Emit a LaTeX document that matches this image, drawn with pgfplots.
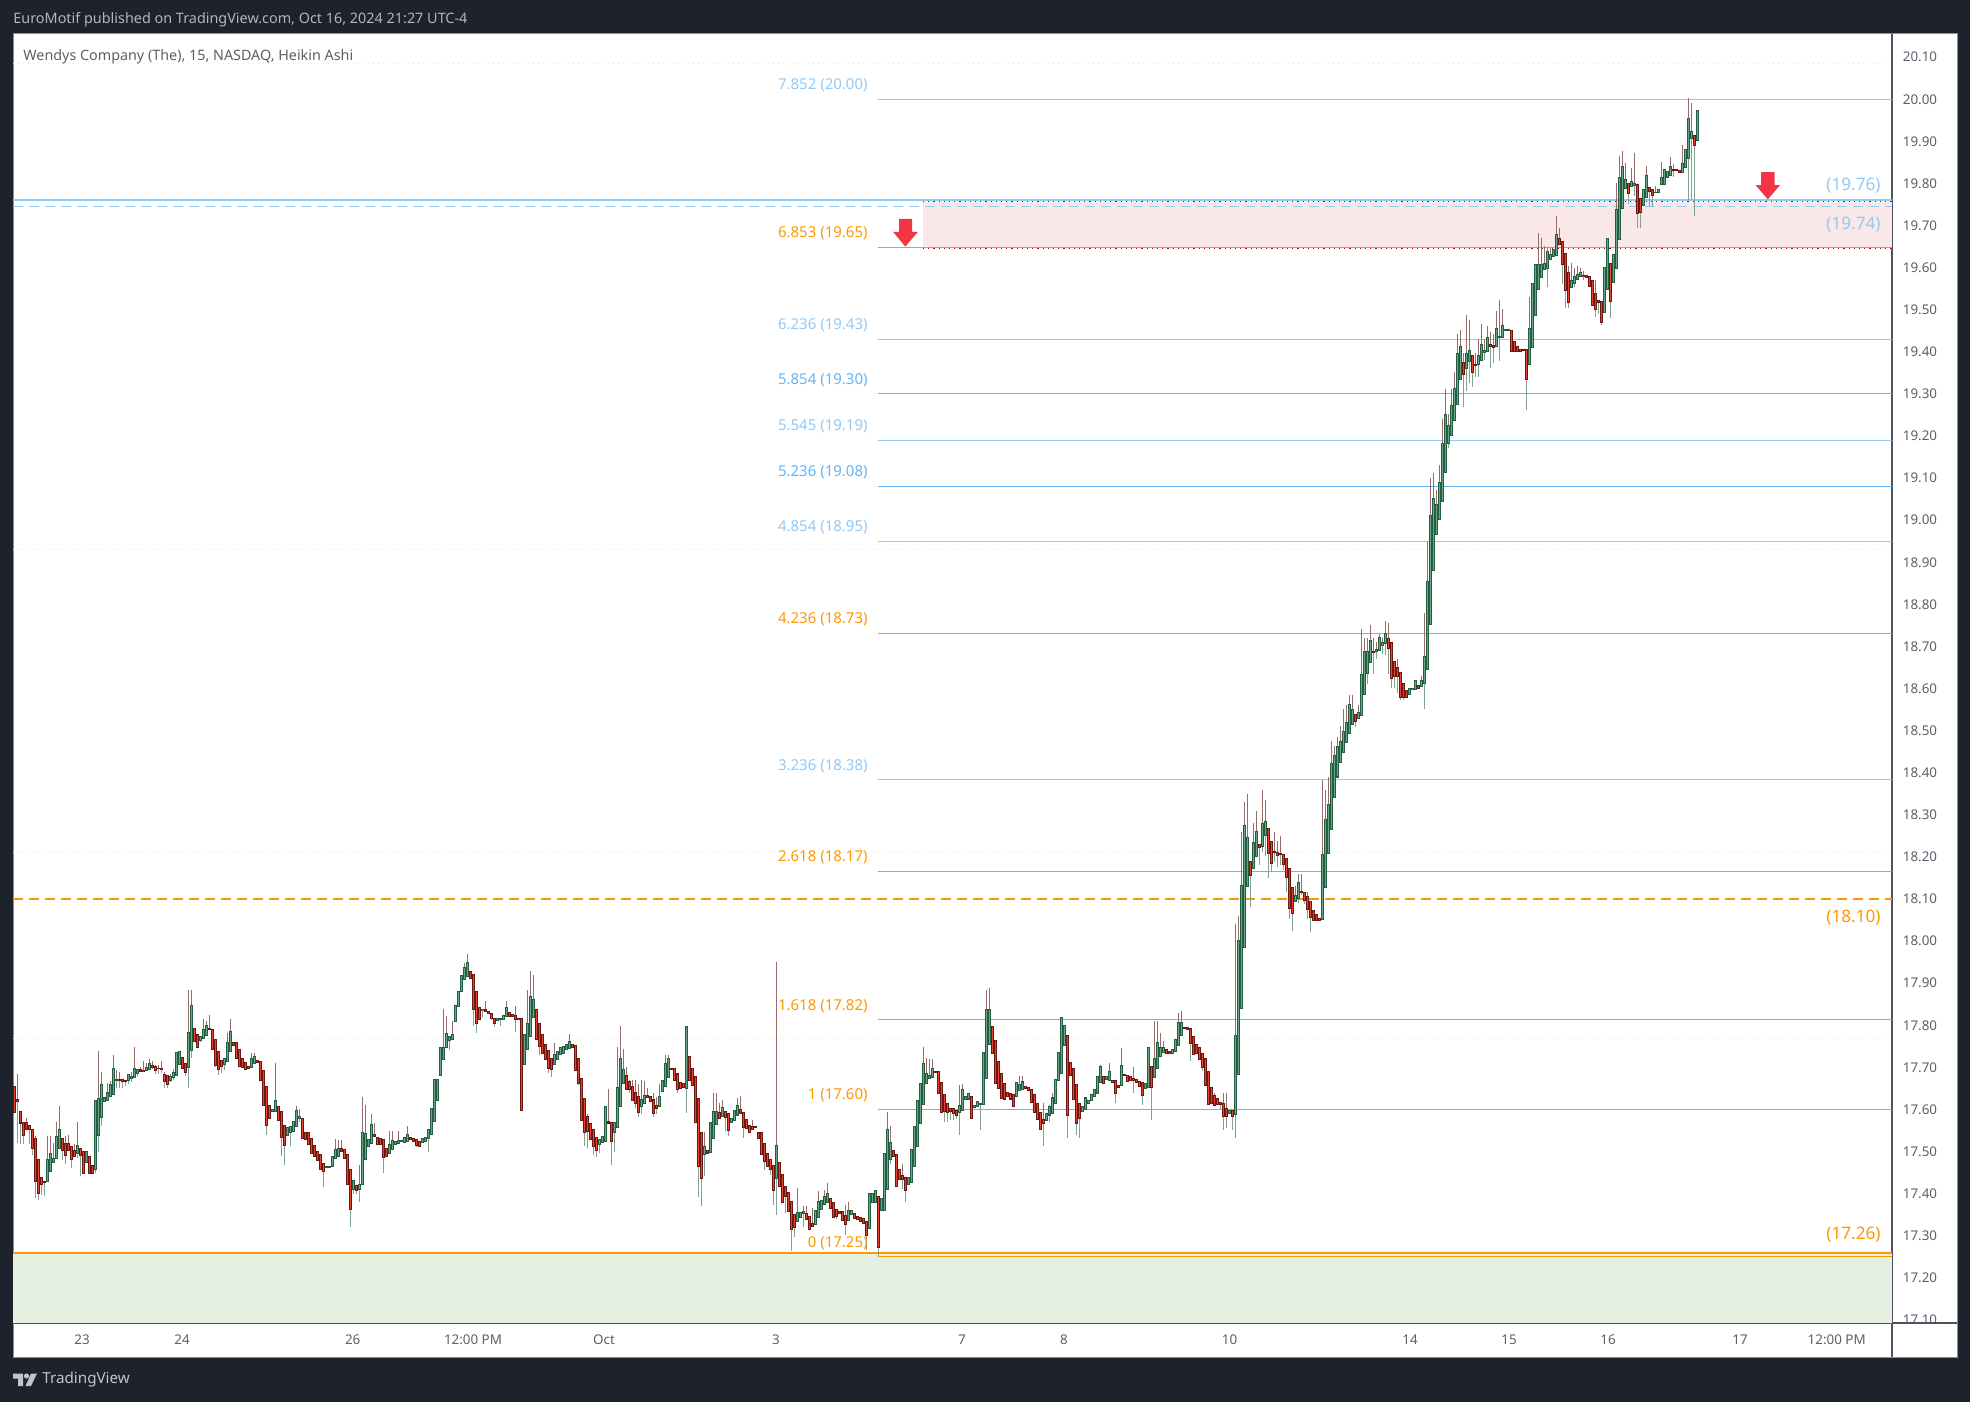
\documentclass[border=0pt]{standalone}
\usepackage{pgfplots}
\usepackage{pgfplotstable}
\usepackage{fontspec}
\setmainfont{Noto Sans}
\pgfplotsset{compat=1.18}
\definecolor{dark}{HTML}{1E222D}
\definecolor{framec}{HTML}{8A8D96}
\definecolor{axln}{HTML}{50535E}
\definecolor{txtg}{HTML}{5D606B}
\definecolor{hdr}{HTML}{B2B5BE}
\definecolor{fibo}{HTML}{FF9800}
\definecolor{fibl}{HTML}{90CAF9}
\definecolor{fibb}{HTML}{64B5F6}
\definecolor{zonered}{HTML}{FAE7E7}
\definecolor{zonegrn}{HTML}{E6F0E1}
\definecolor{arrowred}{HTML}{F23645}
\definecolor{wickhi}{HTML}{9A6A68}
\definecolor{wicklo}{HTML}{7FA390}
\definecolor{upo}{HTML}{235E42}
\definecolor{upi}{HTML}{6AA588}
\definecolor{dno}{HTML}{6B1610}
\definecolor{dni}{HTML}{E5442E}
\definecolor{gridc}{HTML}{DCEBD8}
\pgfplotstableread{
o c h l
17.655 17.593 17.655 17.593
17.623 17.618 17.684 17.520
17.594 17.568 17.594 17.518
17.568 17.538 17.568 17.518
17.568 17.552 17.579 17.552
17.561 17.552 17.561 17.518
17.551 17.507 17.551 17.492
17.530 17.429 17.536 17.389
17.480 17.401 17.480 17.385
17.439 17.421 17.439 17.397
17.429 17.427 17.429 17.395
17.429 17.480 17.536 17.429
17.453 17.496 17.536 17.453
17.474 17.484 17.520 17.474
17.483 17.536 17.569 17.483
17.507 17.553 17.609 17.507
17.530 17.503 17.530 17.480
17.518 17.491 17.536 17.470
17.518 17.503 17.540 17.503
17.511 17.482 17.511 17.461
17.503 17.488 17.518 17.488
17.496 17.514 17.571 17.485
17.506 17.490 17.506 17.441
17.499 17.449 17.499 17.449
17.474 17.499 17.499 17.474
17.488 17.449 17.488 17.449
17.467 17.449 17.467 17.449
17.458 17.620 17.620 17.449
17.539 17.625 17.739 17.500
17.582 17.658 17.690 17.560
17.619 17.627 17.627 17.619
17.621 17.639 17.663 17.621
17.631 17.658 17.667 17.631
17.635 17.698 17.730 17.635
17.669 17.670 17.693 17.651
17.670 17.668 17.690 17.650
17.670 17.666 17.670 17.651
17.668 17.666 17.668 17.655
17.668 17.682 17.682 17.661
17.674 17.678 17.690 17.665
17.676 17.698 17.748 17.676
17.686 17.694 17.694 17.680
17.694 17.690 17.700 17.690
17.693 17.690 17.714 17.690
17.693 17.700 17.710 17.693
17.694 17.710 17.720 17.694
17.704 17.701 17.714 17.695
17.701 17.693 17.705 17.685
17.698 17.697 17.705 17.685
17.698 17.694 17.716 17.686
17.682 17.666 17.690 17.651
17.680 17.659 17.680 17.651
17.670 17.677 17.684 17.665
17.677 17.688 17.695 17.670
17.682 17.734 17.734 17.682
17.706 17.738 17.738 17.706
17.724 17.698 17.724 17.698
17.710 17.688 17.710 17.680
17.701 17.783 17.884 17.651
17.740 17.846 17.884 17.722
17.793 17.761 17.793 17.761
17.779 17.748 17.779 17.748
17.765 17.773 17.773 17.760
17.769 17.789 17.815 17.769
17.777 17.800 17.810 17.777
17.791 17.789 17.825 17.789
17.789 17.742 17.789 17.742
17.767 17.705 17.767 17.700
17.738 17.696 17.738 17.682
17.716 17.702 17.716 17.686
17.708 17.722 17.722 17.694
17.714 17.759 17.781 17.714
17.738 17.784 17.815 17.738
17.759 17.751 17.759 17.751
17.758 17.722 17.758 17.722
17.742 17.702 17.742 17.702
17.722 17.700 17.722 17.700
17.712 17.696 17.712 17.696
17.702 17.697 17.702 17.697
17.700 17.722 17.735 17.700
17.710 17.726 17.735 17.710
17.716 17.712 17.716 17.712
17.714 17.670 17.714 17.670
17.693 17.610 17.693 17.610
17.655 17.562 17.655 17.540
17.610 17.579 17.610 17.579
17.595 17.599 17.599 17.595
17.595 17.620 17.710 17.595
17.607 17.573 17.607 17.573
17.595 17.534 17.595 17.490
17.562 17.515 17.562 17.468
17.538 17.556 17.556 17.538
17.545 17.560 17.560 17.512
17.548 17.571 17.571 17.548
17.560 17.597 17.609 17.560
17.579 17.582 17.602 17.570
17.579 17.530 17.579 17.530
17.544 17.528 17.544 17.528
17.544 17.518 17.544 17.518
17.531 17.496 17.531 17.496
17.514 17.488 17.514 17.488
17.500 17.480 17.500 17.480
17.492 17.457 17.492 17.457
17.471 17.453 17.471 17.415
17.463 17.465 17.465 17.463
17.463 17.465 17.465 17.463
17.465 17.487 17.487 17.465
17.484 17.504 17.530 17.484
17.488 17.508 17.528 17.488
17.506 17.500 17.528 17.500
17.504 17.484 17.504 17.484
17.492 17.421 17.492 17.421
17.458 17.363 17.458 17.320
17.409 17.431 17.431 17.400
17.420 17.408 17.420 17.400
17.409 17.421 17.468 17.379
17.421 17.544 17.629 17.421
17.482 17.542 17.611 17.482
17.512 17.528 17.528 17.512
17.520 17.563 17.590 17.520
17.541 17.537 17.568 17.537
17.532 17.518 17.532 17.518
17.530 17.516 17.530 17.516
17.528 17.487 17.528 17.450
17.506 17.488 17.506 17.488
17.496 17.516 17.549 17.496
17.506 17.526 17.549 17.506
17.518 17.524 17.524 17.518
17.520 17.526 17.548 17.520
17.524 17.526 17.526 17.524
17.522 17.532 17.532 17.522
17.524 17.540 17.560 17.524
17.532 17.528 17.532 17.528
17.530 17.524 17.530 17.524
17.528 17.514 17.528 17.510
17.524 17.512 17.524 17.512
17.522 17.530 17.530 17.522
17.524 17.532 17.532 17.524
17.530 17.552 17.552 17.500
17.540 17.603 17.603 17.540
17.571 17.670 17.670 17.571
17.621 17.670 17.670 17.621
17.682 17.748 17.748 17.682
17.718 17.748 17.838 17.718
17.748 17.781 17.822 17.748
17.764 17.773 17.773 17.742
17.767 17.777 17.809 17.767
17.809 17.846 17.846 17.809
17.845 17.880 17.880 17.845
17.880 17.917 17.917 17.880
17.908 17.936 17.948 17.908
17.916 17.949 17.970 17.916
17.928 17.912 17.928 17.912
17.920 17.838 17.920 17.799
17.879 17.805 17.879 17.781
17.841 17.815 17.841 17.815
17.835 17.838 17.838 17.817
17.837 17.833 17.857 17.833
17.833 17.827 17.833 17.827
17.827 17.817 17.827 17.813
17.815 17.805 17.815 17.795
17.811 17.815 17.815 17.811
17.813 17.815 17.815 17.799
17.813 17.822 17.822 17.813
17.821 17.843 17.857 17.821
17.830 17.822 17.830 17.822
17.825 17.821 17.825 17.821
17.822 17.815 17.845 17.785
17.817 17.813 17.817 17.813
17.817 17.598 17.817 17.598
17.706 17.779 17.779 17.706
17.742 17.803 17.884 17.742
17.773 17.867 17.929 17.773
17.819 17.860 17.920 17.819
17.838 17.767 17.838 17.767
17.803 17.750 17.803 17.730
17.777 17.734 17.777 17.734
17.755 17.720 17.755 17.720
17.740 17.698 17.740 17.686
17.720 17.696 17.720 17.677
17.708 17.730 17.759 17.708
17.720 17.738 17.738 17.720
17.730 17.746 17.746 17.730
17.734 17.750 17.750 17.734
17.742 17.754 17.754 17.742
17.746 17.762 17.779 17.746
17.754 17.748 17.754 17.748
17.751 17.693 17.751 17.693
17.722 17.661 17.722 17.659
17.674 17.575 17.674 17.575
17.625 17.545 17.625 17.512
17.583 17.548 17.590 17.508
17.566 17.528 17.566 17.528
17.553 17.511 17.553 17.492
17.534 17.503 17.534 17.488
17.518 17.528 17.528 17.496
17.522 17.536 17.536 17.522
17.524 17.607 17.607 17.524
17.570 17.568 17.648 17.568
17.569 17.524 17.569 17.468
17.546 17.569 17.569 17.500
17.558 17.653 17.748 17.558
17.607 17.720 17.799 17.607
17.661 17.694 17.743 17.661
17.680 17.648 17.700 17.648
17.667 17.647 17.670 17.640
17.655 17.621 17.670 17.621
17.640 17.615 17.670 17.603
17.631 17.593 17.660 17.583
17.607 17.623 17.670 17.590
17.615 17.632 17.667 17.615
17.632 17.629 17.650 17.629
17.631 17.619 17.631 17.619
17.623 17.591 17.640 17.583
17.609 17.603 17.630 17.590
17.607 17.631 17.660 17.607
17.643 17.668 17.668 17.643
17.655 17.710 17.730 17.655
17.676 17.720 17.730 17.676
17.698 17.696 17.698 17.696
17.698 17.668 17.698 17.668
17.684 17.648 17.684 17.640
17.664 17.651 17.664 17.651
17.661 17.653 17.661 17.653
17.651 17.798 17.798 17.591
17.726 17.670 17.726 17.670
17.698 17.657 17.698 17.657
17.678 17.569 17.678 17.569
17.625 17.465 17.625 17.393
17.544 17.437 17.544 17.370
17.492 17.511 17.546 17.441
17.503 17.496 17.503 17.496
17.498 17.568 17.568 17.498
17.530 17.595 17.639 17.530
17.565 17.595 17.639 17.565
17.593 17.579 17.615 17.579
17.583 17.605 17.623 17.583
17.595 17.582 17.595 17.548
17.590 17.550 17.590 17.536
17.569 17.579 17.579 17.569
17.575 17.598 17.598 17.575
17.587 17.609 17.627 17.587
17.599 17.591 17.631 17.591
17.593 17.558 17.593 17.532
17.575 17.556 17.575 17.556
17.561 17.545 17.561 17.545
17.560 17.553 17.575 17.553
17.560 17.558 17.560 17.558
17.545 17.530 17.545 17.530
17.544 17.492 17.544 17.492
17.518 17.476 17.518 17.455
17.496 17.465 17.496 17.465
17.480 17.457 17.480 17.445
17.466 17.408 17.466 17.374
17.437 17.514 17.951 17.350
17.474 17.416 17.474 17.416
17.446 17.378 17.446 17.378
17.416 17.393 17.416 17.354
17.403 17.358 17.403 17.358
17.380 17.316 17.380 17.263
17.350 17.320 17.350 17.298
17.334 17.354 17.413 17.334
17.344 17.354 17.354 17.344
17.352 17.358 17.370 17.320
17.352 17.339 17.370 17.339
17.346 17.314 17.346 17.314
17.330 17.322 17.366 17.322
17.326 17.360 17.360 17.326
17.344 17.381 17.406 17.344
17.362 17.383 17.383 17.362
17.374 17.392 17.409 17.374
17.378 17.400 17.425 17.378
17.389 17.366 17.389 17.366
17.378 17.344 17.378 17.344
17.362 17.346 17.362 17.340
17.358 17.354 17.358 17.354
17.358 17.336 17.358 17.336
17.347 17.326 17.374 17.302
17.336 17.360 17.380 17.336
17.350 17.360 17.360 17.350
17.352 17.342 17.352 17.342
17.346 17.338 17.346 17.338
17.342 17.334 17.342 17.334
17.340 17.330 17.340 17.330
17.334 17.300 17.334 17.266
17.318 17.399 17.399 17.318
17.379 17.399 17.399 17.379
17.379 17.408 17.408 17.379
17.393 17.273 17.393 17.251
17.360 17.389 17.389 17.360
17.360 17.496 17.496 17.360
17.411 17.553 17.595 17.411
17.482 17.522 17.560 17.470
17.503 17.488 17.503 17.488
17.492 17.417 17.492 17.417
17.457 17.433 17.457 17.433
17.443 17.433 17.470 17.410
17.439 17.408 17.439 17.379
17.421 17.437 17.437 17.421
17.427 17.504 17.504 17.427
17.465 17.560 17.560 17.465
17.512 17.620 17.620 17.512
17.566 17.661 17.661 17.566
17.611 17.708 17.748 17.611
17.661 17.686 17.722 17.661
17.674 17.680 17.720 17.674
17.677 17.698 17.720 17.677
17.690 17.688 17.690 17.688
17.689 17.639 17.689 17.639
17.663 17.594 17.663 17.594
17.635 17.595 17.635 17.571
17.613 17.594 17.613 17.571
17.603 17.595 17.603 17.574
17.601 17.591 17.601 17.574
17.598 17.587 17.598 17.578
17.593 17.609 17.657 17.540
17.597 17.648 17.660 17.597
17.623 17.631 17.631 17.623
17.625 17.637 17.637 17.625
17.631 17.579 17.631 17.579
17.606 17.609 17.609 17.606
17.607 17.619 17.619 17.607
17.613 17.615 17.615 17.550
17.611 17.736 17.736 17.611
17.674 17.838 17.884 17.674
17.754 17.837 17.888 17.754
17.796 17.734 17.796 17.734
17.764 17.661 17.764 17.661
17.714 17.651 17.714 17.651
17.685 17.627 17.685 17.627
17.661 17.625 17.661 17.622
17.639 17.631 17.639 17.631
17.637 17.625 17.637 17.625
17.635 17.607 17.635 17.607
17.631 17.663 17.663 17.631
17.645 17.659 17.680 17.645
17.647 17.665 17.680 17.647
17.655 17.651 17.655 17.651
17.653 17.645 17.653 17.645
17.648 17.617 17.648 17.617
17.635 17.593 17.635 17.593
17.615 17.577 17.615 17.577
17.593 17.552 17.593 17.552
17.575 17.566 17.615 17.514
17.575 17.590 17.590 17.575
17.587 17.606 17.610 17.570
17.591 17.627 17.640 17.591
17.615 17.670 17.670 17.615
17.670 17.736 17.736 17.670
17.686 17.819 17.819 17.686
17.751 17.799 17.799 17.751
17.776 17.586 17.776 17.532
17.712 17.680 17.712 17.680
17.696 17.623 17.696 17.623
17.660 17.568 17.660 17.540
17.615 17.578 17.615 17.532
17.595 17.607 17.607 17.595
17.599 17.627 17.627 17.599
17.615 17.621 17.621 17.615
17.621 17.635 17.635 17.621
17.631 17.647 17.647 17.631
17.639 17.677 17.677 17.639
17.664 17.701 17.706 17.664
17.677 17.663 17.677 17.663
17.672 17.677 17.677 17.672
17.670 17.689 17.710 17.670
17.669 17.665 17.669 17.665
17.669 17.639 17.669 17.615
17.657 17.653 17.657 17.653
17.656 17.704 17.745 17.656
17.682 17.680 17.682 17.680
17.680 17.666 17.680 17.666
17.677 17.669 17.677 17.669
17.674 17.669 17.700 17.639
17.670 17.664 17.670 17.664
17.666 17.655 17.666 17.655
17.663 17.633 17.663 17.611
17.651 17.661 17.661 17.651
17.652 17.748 17.748 17.652
17.702 17.653 17.702 17.575
17.677 17.722 17.809 17.677
17.698 17.758 17.809 17.698
17.727 17.746 17.781 17.727
17.735 17.746 17.762 17.735
17.742 17.732 17.742 17.732
17.738 17.732 17.738 17.732
17.734 17.743 17.743 17.734
17.739 17.765 17.765 17.739
17.752 17.807 17.830 17.752
17.777 17.807 17.835 17.777
17.795 17.793 17.795 17.793
17.795 17.791 17.795 17.791
17.793 17.756 17.793 17.714
17.773 17.730 17.773 17.730
17.754 17.734 17.754 17.734
17.746 17.720 17.746 17.720
17.732 17.701 17.732 17.692
17.722 17.657 17.722 17.657
17.689 17.613 17.689 17.613
17.651 17.615 17.651 17.615
17.632 17.610 17.639 17.610
17.625 17.611 17.625 17.611
17.617 17.611 17.617 17.600
17.615 17.583 17.640 17.550
17.601 17.583 17.640 17.555
17.591 17.598 17.598 17.591
17.597 17.583 17.597 17.550
17.589 17.776 18.041 17.532
17.684 18.000 18.060 17.684
17.841 18.133 18.260 17.841
17.985 18.275 18.330 17.985
18.130 18.247 18.350 18.130
18.190 18.156 18.190 18.080
18.172 18.233 18.280 18.172
18.201 18.259 18.309 18.201
18.230 18.222 18.230 18.181
18.225 18.280 18.359 18.212
18.252 18.283 18.336 18.201
18.268 18.209 18.268 18.151
18.237 18.185 18.237 18.165
18.212 18.210 18.260 18.189
18.210 18.203 18.237 18.175
18.209 18.207 18.250 18.181
18.206 18.183 18.206 18.169
18.195 18.151 18.195 18.116
18.173 18.077 18.173 18.052
18.126 18.066 18.126 18.025
18.095 18.107 18.131 18.095
18.102 18.138 18.160 18.090
18.118 18.116 18.160 18.110
18.116 18.096 18.116 18.088
18.106 18.076 18.117 18.052
18.094 18.056 18.094 18.021
18.073 18.049 18.073 18.049
18.062 18.049 18.062 18.049
18.054 18.049 18.054 18.049
18.052 18.205 18.382 18.052
18.128 18.288 18.360 18.128
18.209 18.324 18.390 18.209
18.266 18.421 18.476 18.266
18.342 18.440 18.463 18.342
18.390 18.461 18.486 18.390
18.425 18.473 18.512 18.425
18.449 18.497 18.552 18.449
18.473 18.518 18.562 18.473
18.494 18.562 18.585 18.494
18.514 18.550 18.585 18.514
18.537 18.522 18.537 18.509
18.530 18.544 18.562 18.530
18.537 18.632 18.742 18.537
18.585 18.687 18.720 18.585
18.637 18.687 18.720 18.611
18.661 18.714 18.752 18.661
18.687 18.686 18.720 18.635
18.688 18.692 18.710 18.671
18.691 18.720 18.730 18.691
18.703 18.710 18.720 18.683
18.708 18.730 18.761 18.680
18.718 18.696 18.755 18.635
18.708 18.625 18.708 18.601
18.665 18.629 18.665 18.601
18.649 18.629 18.671 18.589
18.639 18.580 18.639 18.573
18.611 18.580 18.611 18.572
18.594 18.580 18.594 18.580
18.587 18.601 18.601 18.587
18.597 18.601 18.601 18.597
18.597 18.619 18.619 18.597
18.608 18.601 18.608 18.601
18.605 18.619 18.629 18.605
18.613 18.677 18.779 18.552
18.645 18.855 18.951 18.645
18.752 19.010 19.101 18.752
18.880 19.052 19.111 18.880
18.966 19.036 19.072 18.966
19.002 19.090 19.131 19.002
19.045 19.183 19.240 19.045
19.114 19.251 19.312 19.114
19.183 19.224 19.252 19.172
19.202 19.273 19.312 19.202
19.237 19.313 19.352 19.237
19.275 19.396 19.442 19.275
19.335 19.413 19.452 19.335
19.375 19.346 19.396 19.268
19.361 19.396 19.487 19.308
19.377 19.403 19.475 19.327
19.392 19.350 19.392 19.317
19.370 19.368 19.396 19.341
19.370 19.392 19.430 19.341
19.380 19.418 19.466 19.380
19.399 19.404 19.430 19.380
19.401 19.434 19.461 19.401
19.418 19.413 19.447 19.362
19.415 19.411 19.442 19.373
19.413 19.456 19.497 19.413
19.434 19.436 19.523 19.377
19.434 19.463 19.502 19.434
19.450 19.452 19.452 19.450
19.450 19.452 19.452 19.450
19.451 19.401 19.451 19.401
19.425 19.401 19.425 19.401
19.413 19.401 19.413 19.401
19.406 19.401 19.406 19.401
19.405 19.403 19.405 19.403
19.405 19.335 19.405 19.262
19.371 19.454 19.531 19.371
19.410 19.563 19.563 19.410
19.486 19.608 19.608 19.486
19.549 19.608 19.682 19.549
19.577 19.608 19.670 19.577
19.595 19.610 19.652 19.595
19.599 19.638 19.650 19.555
19.620 19.630 19.646 19.620
19.626 19.642 19.642 19.626
19.630 19.678 19.723 19.630
19.668 19.656 19.694 19.656
19.662 19.608 19.662 19.560
19.634 19.545 19.634 19.504
19.589 19.518 19.605 19.503
19.554 19.569 19.610 19.554
19.563 19.579 19.600 19.555
19.571 19.583 19.605 19.571
19.579 19.588 19.600 19.579
19.582 19.579 19.592 19.570
19.582 19.577 19.582 19.577
19.579 19.555 19.579 19.555
19.569 19.510 19.569 19.510
19.539 19.501 19.570 19.482
19.521 19.517 19.521 19.490
19.519 19.470 19.519 19.464
19.494 19.601 19.601 19.494
19.549 19.670 19.670 19.549
19.610 19.519 19.610 19.481
19.565 19.630 19.630 19.565
19.599 19.737 19.800 19.599
19.666 19.815 19.864 19.666
19.741 19.839 19.877 19.741
19.789 19.808 19.848 19.789
19.799 19.777 19.799 19.750
19.793 19.804 19.836 19.793
19.796 19.799 19.872 19.770
19.797 19.729 19.797 19.695
19.765 19.732 19.765 19.694
19.748 19.785 19.785 19.748
19.767 19.818 19.842 19.767
19.791 19.781 19.791 19.745
19.785 19.771 19.785 19.745
19.778 19.779 19.793 19.778
19.778 19.785 19.785 19.778
19.797 19.814 19.850 19.797
19.797 19.832 19.832 19.797
19.814 19.828 19.828 19.814
19.820 19.839 19.862 19.820
19.832 19.830 19.846 19.815
19.832 19.830 19.832 19.830
19.830 19.826 19.830 19.826
19.827 19.848 19.892 19.827
19.839 19.881 19.881 19.839
19.860 19.955 20.002 19.761
19.907 19.923 19.991 19.761
19.914 19.890 19.914 19.723
19.903 19.972 19.972 19.903
}\ha
% one path per layer, built from the table's rows
\gdef\lwh{}\gdef\lwl{}\gdef\ldo{}\gdef\ldi{}\gdef\luo{}\gdef\lui{}
\foreach \i in {0,...,561}{%
  \pgfplotstablegetelem{\i}{o}\of\ha\let\vO\pgfplotsretval
  \pgfplotstablegetelem{\i}{c}\of\ha\let\vC\pgfplotsretval
  \pgfplotstablegetelem{\i}{h}\of\ha\let\vH\pgfplotsretval
  \pgfplotstablegetelem{\i}{l}\of\ha\let\vL\pgfplotsretval
  \pgfmathsetmacro\vX{14.5+3*\i}%
  \pgfmathsetmacro\vT{max(\vO,\vC)}%
  \pgfmathsetmacro\vB{min(\vO,\vC)}%
  \pgfmathsetmacro\vTo{\vT+0.0014}%
  \pgfmathsetmacro\vBo{\vB-0.0014}%
  \pgfmathsetmacro\vTi{\vT-0.0010}%
  \pgfmathsetmacro\vBi{\vB+0.0010}%
  \ifdim\vH pt>\vT pt\xdef\lwh{\lwh(\vX,\vT)(\vX,\vH)(\vX,nan)}\fi
  \ifdim\vL pt<\vB pt\xdef\lwl{\lwl(\vX,\vB)(\vX,\vL)(\vX,nan)}\fi
  \ifdim\vC pt<\vO pt
    \xdef\ldo{\ldo(\vX,\vBo)(\vX,\vTo)(\vX,nan)}%
    \ifdim\vTi pt>\vBi pt\xdef\ldi{\ldi(\vX,\vBi)(\vX,\vTi)(\vX,nan)}\fi
  \else
    \xdef\luo{\luo(\vX,\vBo)(\vX,\vTo)(\vX,nan)}%
    \ifdim\vTi pt>\vBi pt\xdef\lui{\lui(\vX,\vBi)(\vX,\vTi)(\vX,nan)}\fi
  \fi
}
\newcommand\layer[2]{\edef\tmpl{\noexpand\addplot[forget plot,no markers,unbounded coords=jump,#1] coordinates {#2};}\tmpl}
\newcommand\hl[3]{\addplot[forget plot,#1] coordinates {(#2,#3) (1892,#3)};}
\begin{document}
\begin{tikzpicture}
\begin{scope}[x=0.5pt,y=-0.5pt]
\fill[dark] (0,0) rectangle (1970,1402);
\filldraw[fill=white,draw=framec,line width=0.5pt] (13,34) rectangle (1957,1357);
\node[anchor=west,text=hdr,font=\fontsize{7.2pt}{8pt}\selectfont,inner sep=0pt] at (13,20) {EuroMotif published on TradingView.com, Oct 16, 2024 21:27 UTC-4};
\end{scope}
\begin{axis}[
  at={(6.5pt,-661.5pt)},anchor=south west,
  width=939.5pt,height=644.5pt,scale only axis,
  xmin=13,xmax=1892,ymin=17.0926,ymax=20.155,
  axis x line*=bottom,axis y line*=right,
  axis line style={draw=axln,line width=0.6pt,-},
  tick style={draw=none},
  xtick={82,182,352.7,473,604,776,962,1064,1229.6,1410,1509,1608,1740,1836.7},
  xticklabels={23,24,26,12:00 PM,\textbf{Oct},3,7,8,10,14,15,16,17,12:00 PM},
  ytick={17.1,17.2,17.3,17.4,17.5,17.6,17.7,17.8,17.9,18,18.1,18.2,18.3,18.4,18.5,18.6,18.7,18.8,18.9,19,19.1,19.2,19.3,19.4,19.5,19.6,19.7,19.8,19.9,20,20.1},
  yticklabel style={text=txtg,font=\fontsize{6.7pt}{8pt}\selectfont,anchor=center,inner sep=0pt,xshift=14pt,/pgf/number format/.cd,fixed,fixed zerofill,precision=2,assume math mode=true},
  xticklabel style={text=txtg,font=\fontsize{6.7pt}{8pt}\selectfont,anchor=center,inner sep=0pt,yshift=-8.5pt},
]
% zones
\addplot[forget plot,draw=none,fill=zonegrn] coordinates {(13,17.26)(1892,17.26)(1892,17.0926)(13,17.0926)} --cycle;
\addplot[forget plot,draw=none,fill=zonered] coordinates {(923,19.757)(1892,19.757)(1892,19.648)(923,19.648)} --cycle;
% dotted grid
\addplot[forget plot,dotted,gridc,line width=0.5pt] coordinates {(13,20.086)(1892,20.086)};
\addplot[forget plot,dotted,gridc,line width=0.5pt] coordinates {(13,18.93)(1892,18.93)};
\addplot[forget plot,dotted,gridc,line width=0.5pt] coordinates {(13,18.21)(1892,18.21)};
\addplot[forget plot,dotted,gridc,line width=0.5pt] coordinates {(13,17.769)(1892,17.769)};
% fib lines
\hl{fibl,line width=0.6pt}{878}{20.00}
\hl{fibo,line width=0.6pt}{878}{19.648}
\hl{fibl,line width=0.6pt}{878}{19.43}
\hl{fibb,line width=0.6pt}{878}{19.30}
\hl{fibl,line width=0.6pt}{878}{19.19}
\hl{fibb,line width=0.6pt}{878}{19.08}
\hl{fibl,line width=0.6pt}{878}{18.95}
\hl{fibo,line width=0.6pt}{878}{18.73}
\hl{fibl,line width=0.6pt}{878}{18.383}
\hl{fibo,line width=0.6pt}{878}{18.166}
\hl{fibo,line width=0.5pt}{878}{17.813}
\hl{fibo,line width=0.6pt}{878}{17.60}
\hl{fibo,line width=0.6pt}{878}{17.25}
% long levels
\hl{fibl,line width=1pt}{13}{19.76}
\hl{fibl,line width=0.6pt,dash pattern=on 5pt off 3pt}{13}{19.745}
\hl{fibo,line width=0.6pt,dash pattern=on 5pt off 3pt}{13}{18.10}
\hl{fibo,line width=1pt}{13}{17.26}
\hl{red!70!black,line width=0.6pt,dotted}{923}{19.757}
\hl{red!70!black,line width=0.6pt,dotted}{923}{19.645}
% candles
\layer{wickhi,line width=0.45pt}{\lwh}
\layer{wicklo,line width=0.45pt}{\lwl}
\layer{dno,line width=1.5pt}{\ldo}
\layer{dni,line width=0.7pt}{\ldi}
\layer{upo,line width=1.5pt}{\luo}
\layer{upi,line width=0.7pt}{\lui}
% arrows
\addplot[forget plot,draw=none,fill=arrowred] coordinates {(899,19.716)(912,19.716)(912,19.685)(918,19.685)(905.3,19.650)(893,19.685)(899,19.685)} --cycle;
\addplot[forget plot,draw=none,fill=arrowred] coordinates {(1761,19.827)(1774.5,19.827)(1774.5,19.796)(1780,19.796)(1767.8,19.762)(1755.6,19.796)(1761,19.796)} --cycle;
% labels
\begin{scope}[every node/.style={inner sep=0pt,font=\fontsize{7.5pt}{8pt}\selectfont}]
\node[anchor=east,text=fibl,yshift=7pt] at (axis cs:868,20.00) {7.852 (20.00)};
\node[anchor=east,text=fibo,yshift=7pt] at (axis cs:868,19.648) {6.853 (19.65)};
\node[anchor=east,text=fibl,yshift=7pt] at (axis cs:868,19.43) {6.236 (19.43)};
\node[anchor=east,text=fibb,yshift=7pt] at (axis cs:868,19.30) {5.854 (19.30)};
\node[anchor=east,text=fibl,yshift=7pt] at (axis cs:868,19.19) {5.545 (19.19)};
\node[anchor=east,text=fibb,yshift=7pt] at (axis cs:868,19.08) {5.236 (19.08)};
\node[anchor=east,text=fibl,yshift=7pt] at (axis cs:868,18.95) {4.854 (18.95)};
\node[anchor=east,text=fibo,yshift=7.4pt] at (axis cs:868,18.73) {4.236 (18.73)};
\node[anchor=east,text=fibl,yshift=7pt] at (axis cs:868,18.383) {3.236 (18.38)};
\node[anchor=east,text=fibo,yshift=7pt] at (axis cs:868,18.166) {2.618 (18.17)};
\node[anchor=east,text=fibo,yshift=7pt] at (axis cs:868,17.813) {1.618 (17.82)};
\node[anchor=east,text=fibo,yshift=7pt] at (axis cs:868,17.60) {1 (17.60)};
\node[anchor=east,text=fibo,yshift=7pt] at (axis cs:868,17.25) {0 (17.25)};
\end{scope}
\begin{scope}[every node/.style={inner sep=0pt,font=\fontsize{8.6pt}{9pt}\selectfont}]
\node[anchor=east,text=fibl,yshift=7.5pt] at (axis cs:1881,19.76) {(19.76)};
\node[anchor=east,text=fibl,yshift=-9pt] at (axis cs:1881,19.745) {(19.74)};
\node[anchor=east,text=fibo,yshift=-9.5pt] at (axis cs:1881,18.10) {(18.10)};
\node[anchor=east,text=fibo,yshift=9pt] at (axis cs:1881,17.26) {(17.26)};
\end{scope}
\node[anchor=west,inner sep=0pt,text=txtg,font=\fontsize{7.17pt}{8pt}\selectfont] at (axis cs:23,20.10) {Wendys Company (The), 15, NASDAQ, Heikin Ashi};
\end{axis}
\begin{scope}[x=0.5pt,y=-0.5pt]
\fill[white] (1893,1323.6) rectangle (1956.5,1356.5);
\draw[axln,line width=0.6pt] (1892,1323) -- (1892,1357);
\draw[axln,line width=0.6pt] (1892,1323) -- (1957,1323);
\fill[hdr!80!white] (13,1373.5) -- (23,1373.5) -- (23,1386) -- (18,1386) -- (18,1378.5) -- (13,1378.5) -- cycle;
\fill[hdr!80!white] (26.5,1376) circle (2.6);
\fill[hdr!80!white] (37,1373.5) -- (31,1386) -- (25.5,1386) -- (31,1373.5) -- cycle;
\node[anchor=west,text=hdr!80!white,font=\fontsize{7.6pt}{9pt}\selectfont,inner sep=0pt] at (42,1380) {TradingView};
\end{scope}
\end{tikzpicture}
\end{document}
